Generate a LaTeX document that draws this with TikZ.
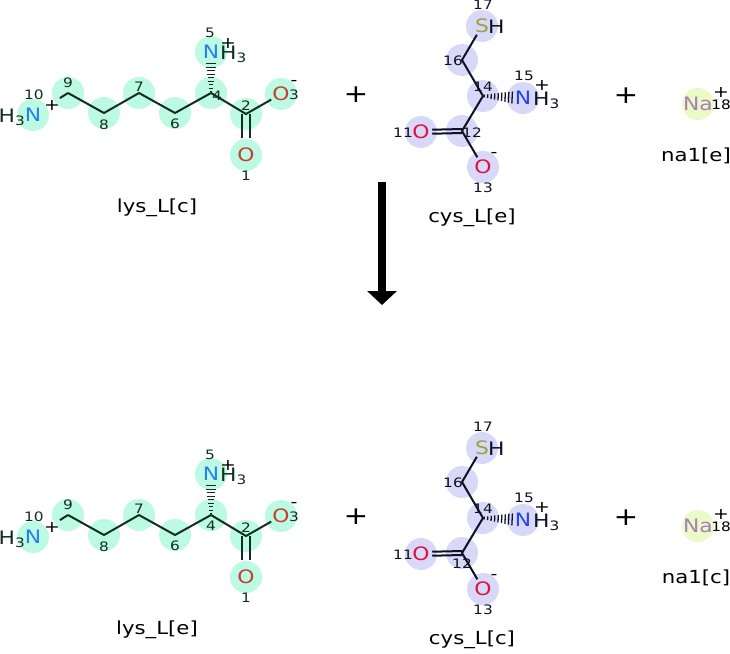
\documentclass[tikz,border=0pt]{standalone}
\usepackage{fontspec}
\setmainfont{DejaVu Sans}[FakeStretch=1.18]
\usetikzlibrary{arrows.meta,backgrounds,decorations.markings}
\definecolor{lyshl}{RGB}{188,250,228}
\definecolor{cyshl}{RGB}{216,216,248}
\definecolor{nahl}{RGB}{234,250,200}
\definecolor{lysink}{RGB}{18,46,32}
\definecolor{cysink}{RGB}{16,16,36}
\definecolor{lysN}{RGB}{40,128,232}
\definecolor{lysO}{RGB}{196,64,48}
\definecolor{cysN}{RGB}{40,64,240}
\definecolor{cysO}{RGB}{224,16,64}
\definecolor{cysS}{RGB}{160,160,60}
\definecolor{naink}{RGB}{168,128,184}
\tikzset{>/.tip={Triangle[width=29pt,length=14pt]},
  atom/.style={circle, inner sep=0pt, minimum size=20pt, font=\fontsize{18.5}{20}\selectfont},
  hyd/.style={inner sep=0pt, font=\fontsize{18.5}{20}\selectfont},
  num/.style={inner sep=0pt, font=\fontsize{13}{14}\selectfont},
  chg/.style={inner sep=0pt, font=\fontsize{16}{18}\selectfont},
  molname/.style={inner sep=0pt, font=\fontsize{18}{20}\selectfont},
  plus/.style={inner sep=0pt, font=\fontsize{25}{28}\selectfont},
  bond/.style={line width=2pt},
  hashbond/.style={postaction={decorate}, decoration={markings,
    mark=between positions 0.04 and 1 step 3.5pt with {%
      \pgfmathsetmacro\hw{1.2+(#1-1.2)*\pgfkeysvalueof{/pgf/decoration/mark info/distance from start}/\pgfdecoratedpathlength}%
      \draw[line width=1.3pt] (0pt,-\hw pt) -- (0pt,\hw pt);}}}
}

% lysine, #1 name, #2 place of the 4
\newcommand{\lysmol}[2]{%
  \node[atom, text=lysN] (n10) at (33,115) {N};
  \coordinate (c9) at (68,93);
  \coordinate (c8) at (104,113);
  \coordinate (c7) at (139,93);
  \coordinate (c6) at (175,113);
  \coordinate (c4) at (211,93);
  \node[atom, text=lysN] (n5) at (211,52) {N};
  \coordinate (c2) at (246,114);
  \node[atom, text=lysO] (o3) at (281,94) {O};
  \node[atom, text=lysO] (o1) at (246,155) {O};
  \node[hyd, text=lysink, anchor=base east] (h10) at (25.5,122) {H\textsubscript{3}};
  \node[hyd, text=lysink, anchor=base west] (h5) at (220,59) {H\textsubscript{3}};
  \node[chg] (q10) at (52,105) {+};
  \node[chg] (q5) at (228,43) {+};
  \node[chg] (q3) at (294,83) {-};
  \node[num, text=lysink] (k10) at (34,95) {10};
  \node[num, text=lysink] (k9) at (68,83) {9};
  \node[num, text=lysink] (k8) at (104,125) {8};
  \node[num, text=lysink] (k7) at (139,87) {7};
  \node[num, text=lysink] (k6) at (175,124) {6};
  \node[num, text=lysink] (k4) at #2 {4};
  \node[num, text=lysink] (k5) at (210,33) {5};
  \node[num, text=lysink] (k2) at (246,106) {2};
  \node[num, text=lysink] (k3) at (294,95) {3};
  \node[num, text=lysink] (k1) at (246,176) {1};
  \node[molname] (name) at (157,208) {#1};
  % bonds
  \draw[bond, lysink, shorten >=21pt] (c9) -- (n10);
  \draw[bond, lysink] (c9) -- (c8) -- (c7) -- (c6) -- (c4) -- (c2) -- (o3);
  \draw[bond, lysink, transform canvas={xshift=-3.6pt}, shorten >=6pt] (c2) -- (o1);
  \draw[bond, lysink, transform canvas={xshift=3.6pt}, shorten >=6pt] (c2) -- (o1);
  \path[hashbond=5.5, color=lysink] (c4) -- (n5);
  \begin{scope}[on background layer]
    \foreach \a in {n10,c9,c8,c7,c6,c4,n5,c2,o3,o1}
      \fill[lyshl] (\a) circle (16pt);
  \end{scope}
}

% cysteine, #1 name, #2 place of the 12
\newcommand{\cysmol}[2]{%
  \node[atom, text=cysS] (s17) at (482,26) {S};
  \coordinate (c16) at (462,60);
  \coordinate (c14) at (483,96);
  \node[atom, text=cysN] (n15) at (523,98) {N};
  \coordinate (c12) at (462,131);
  \node[atom, text=cysO] (o11) at (421,132) {O};
  \node[atom, text=cysO] (o13) at (483,167) {O};
  \node[hyd, text=cysink, anchor=base west] (h17) at (488,33) {H};
  \node[hyd, text=cysink, anchor=base west] (h15) at (533,105) {H\textsubscript{3}};
  \node[chg] (q15) at (542,85) {+};
  \node[chg] (q13) at (494,155) {-};
  \node[num, text=cysink] (k17) at (483,5) {17};
  \node[num, text=cysink] (k16) at (453,61) {16};
  \node[num, text=cysink] (k14) at (483,87) {14};
  \node[num, text=cysink] (k15) at (524,76) {15};
  \node[num, text=cysink] (k12) at #2 {12};
  \node[num, text=cysink] (k11) at (403,133) {11};
  \node[num, text=cysink] (k13) at (483,188) {13};
  \node[molname] (name) at (472,218) {#1};
  % bonds
  \draw[bond, cysink] (s17) -- (c16) -- (c14) -- (c12) -- (o13);
  \draw[bond, cysink, transform canvas={yshift=2pt}] (c12) -- (o11);
  \draw[bond, cysink, transform canvas={yshift=-2pt}] (c12) -- (o11);
  \path[hashbond=6, color=cysink] (c14) -- (n15);
  \begin{scope}[on background layer]
    \foreach \a in {s17,c16,c14,n15,c12,o11,o13}
      \fill[cyshl] (\a) circle (16pt);
  \end{scope}
}

% sodium, #1 name
\newcommand{\namol}[1]{%
  \node[atom, text=naink] (na18) at (698,104) {Na};
  \node[chg] (q18) at (721,92) {+};
  \node[num] (k18) at (721,105) {18};
  \node[molname] (name) at (696,156) {#1};
  \begin{scope}[on background layer]
    \fill[nahl] (na18) circle (16pt);
  \end{scope}
}

\begin{document}
\begin{tikzpicture}[x=1pt, y=-1pt]
\useasboundingbox (0,0) rectangle (730,653);

% substrates
\begin{scope}[name prefix=s-]
  \lysmol{lys\_L[c]}{(217,96)}
  \node[plus] (plus1) at (356,95) {+};
  \cysmol{cys\_L[e]}{(472,133)}
  \node[plus] (plus2) at (626,96) {+};
  \namol{na1[e]}
\end{scope}

% reaction arrow
\coordinate (arrtop) at (382,182);
\coordinate (arrbot) at (382,305);
\draw[->, line width=7.7pt] (arrtop) -- (arrbot);

% products
\begin{scope}[name prefix=p-, shift={(0,422)}]
  \lysmol{lys\_L[e]}{(211,104)}
  \node[plus] (plus1) at (356,95) {+};
  \cysmol{cys\_L[c]}{(462,142)}
  \node[plus] (plus2) at (626,96) {+};
  \namol{na1[c]}
\end{scope}
\end{tikzpicture}
\end{document}
